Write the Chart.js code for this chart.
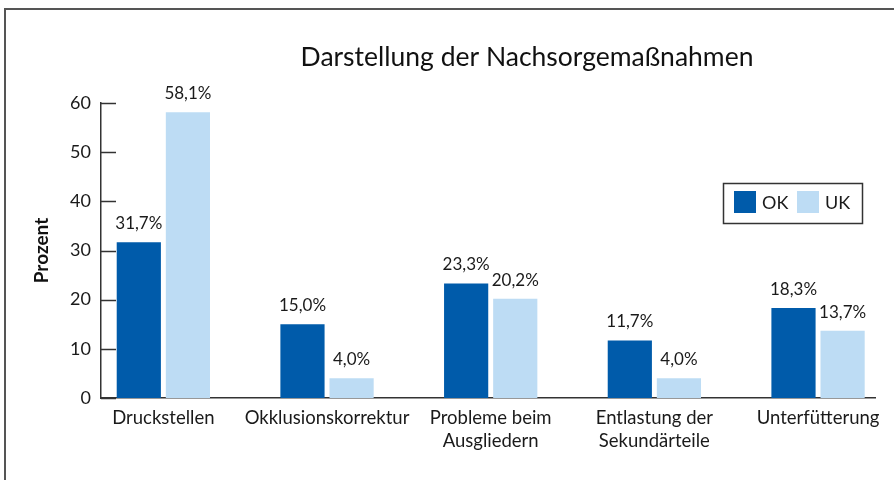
<!DOCTYPE html>
<html>
<head>
<meta charset="utf-8">
<script src="https://cdn.jsdelivr.net/npm/chart.js@4/dist/chart.umd.min.js"></script>
<style>
  html, body { margin: 0; padding: 0; background: #fff; }
  #wrap { position: relative; width: 894px; height: 480px; overflow: hidden; }
  #frame { position: absolute; left: 4px; top: 8px; width: 900px; height: 480px;
           border-left: 2px solid #555; border-top: 2px solid #555; box-sizing: border-box; }
  canvas { position: absolute; left: 0; top: 0; }
</style>
</head>
<body>
<div id="wrap">
  <div id="frame"></div>
  <canvas id="c" width="894" height="480"></canvas>
</div>
<script>
const chartTitle = "Darstellung der Nachsorgemaßnahmen";
const yAxisTitle = "Prozent";
const categories = [
  ["Druckstellen"],
  ["Okklusionskorrektur"],
  ["Probleme beim", "Ausgliedern"],
  ["Entlastung der", "Sekundärteile"],
  ["Unterfütterung"]
];
const seriesNames = ["OK", "UK"];
const okValues = [31.7, 15.0, 23.3, 11.7, 18.3];
const ukValues = [58.1, 4.0, 20.2, 4.0, 13.7];
const yTicks = [0, 10, 20, 30, 40, 50, 60];

const FONT = "Lato, 'Open Sans', sans-serif";
const TEXT = "#1a1a1a";
const AXIS = "#333";
const DARK = "#005BAA";
const LIGHT = "#BDDCF4";

const fmt = v => v.toFixed(1).replace(".", ",") + "%";

const decorations = {
  id: "decorations",
  afterDraw(chart) {
    const ctx = chart.ctx;
    const area = chart.chartArea;
    const y = chart.scales.y;
    ctx.save();
    // inward tick marks on y axis
    ctx.strokeStyle = AXIS;
    ctx.lineWidth = 1.5;
    y.ticks.forEach(t => {
      const py = Math.round(y.getPixelForValue(t.value)) + 0.5;
      ctx.beginPath();
      ctx.moveTo(area.left, py);
      ctx.lineTo(area.left + 15, py);
      ctx.stroke();
    });
    // value labels
    ctx.fillStyle = TEXT;
    ctx.font = "17px " + FONT;
    ctx.textAlign = "center";
    ctx.textBaseline = "bottom";
    chart.data.datasets.forEach((ds, di) => {
      const meta = chart.getDatasetMeta(di);
      meta.data.forEach((bar, i) => {
        ctx.fillText(fmt(ds.data[i].y), bar.x, bar.y - 10);
      });
    });
    // title
    ctx.font = "26.5px " + FONT;
    ctx.textBaseline = "middle";
    ctx.fillStyle = "#111";
    ctx.fillText(chartTitle, 527, 57);
    // y axis title
    ctx.save();
    ctx.translate(42, (area.top + area.bottom) / 2);
    ctx.rotate(-Math.PI / 2);
    ctx.font = "bold 19px " + FONT;
    ctx.fillText(yAxisTitle, 0, 0);
    ctx.restore();
    // legend box
    const lx = 723, ly = 183, lw = 139, lh = 40;
    ctx.strokeStyle = "#333";
    ctx.lineWidth = 1.5;
    ctx.strokeRect(lx + 0.5, ly + 0.5, lw, lh);
    ctx.font = "18px " + FONT;
    ctx.textAlign = "left";
    ctx.textBaseline = "middle";
    const itemX = [734, 797];
    chart.data.datasets.forEach((ds, di) => {
      ctx.fillStyle = ds.backgroundColor;
      ctx.fillRect(itemX[di], ly + 8, 22, 22);
      ctx.fillStyle = TEXT;
      ctx.fillText(ds.label, itemX[di] + 28, ly + 20);
    });
    ctx.restore();
  }
};

new Chart(document.getElementById("c"), {
  type: "bar",
  data: {
    datasets: [
      { label: seriesNames[0], data: okValues.map((v, i) => ({ x: i, y: v })), backgroundColor: DARK },
      { label: seriesNames[1], data: ukValues.map((v, i) => ({ x: i, y: v })), backgroundColor: LIGHT }
    ]
  },
  options: {
    responsive: false,
    animation: false,
    categoryPercentage: 0.6,
    barPercentage: 0.9,
    layout: { padding: { left: 0, right: 19, top: 103, bottom: 0 } },
    plugins: { legend: { display: false }, title: { display: false }, tooltip: { enabled: false } },
    scales: {
      x: {
        type: "linear",
        offset: false,
        min: -0.381,
        max: 4.348,
        afterBuildTicks: s => { s.ticks = categories.map((_, i) => ({ value: i })); },
        afterFit: s => { s.height = 82; },
        grid: { display: false, drawTicks: false },
        border: { display: true, color: AXIS, width: 1.5 },
        ticks: {
          autoSkip: false,
          maxRotation: 0,
          padding: 8,
          color: TEXT,
          font: { family: FONT, size: 18.5, lineHeight: 1.28 },
          callback: v => categories[v]
        }
      },
      y: {
        min: 0,
        max: 60,
        afterBuildTicks: s => { s.ticks = yTicks.map(v => ({ value: v })); },
        afterFit: s => { s.width = 101; },
        grid: { display: false, drawTicks: false },
        border: { display: true, color: AXIS, width: 1.5 },
        ticks: { padding: 10, color: TEXT, font: { family: FONT, size: 18 } }
      }
    }
  },
  plugins: [decorations]
});
</script>
</body>
</html>
